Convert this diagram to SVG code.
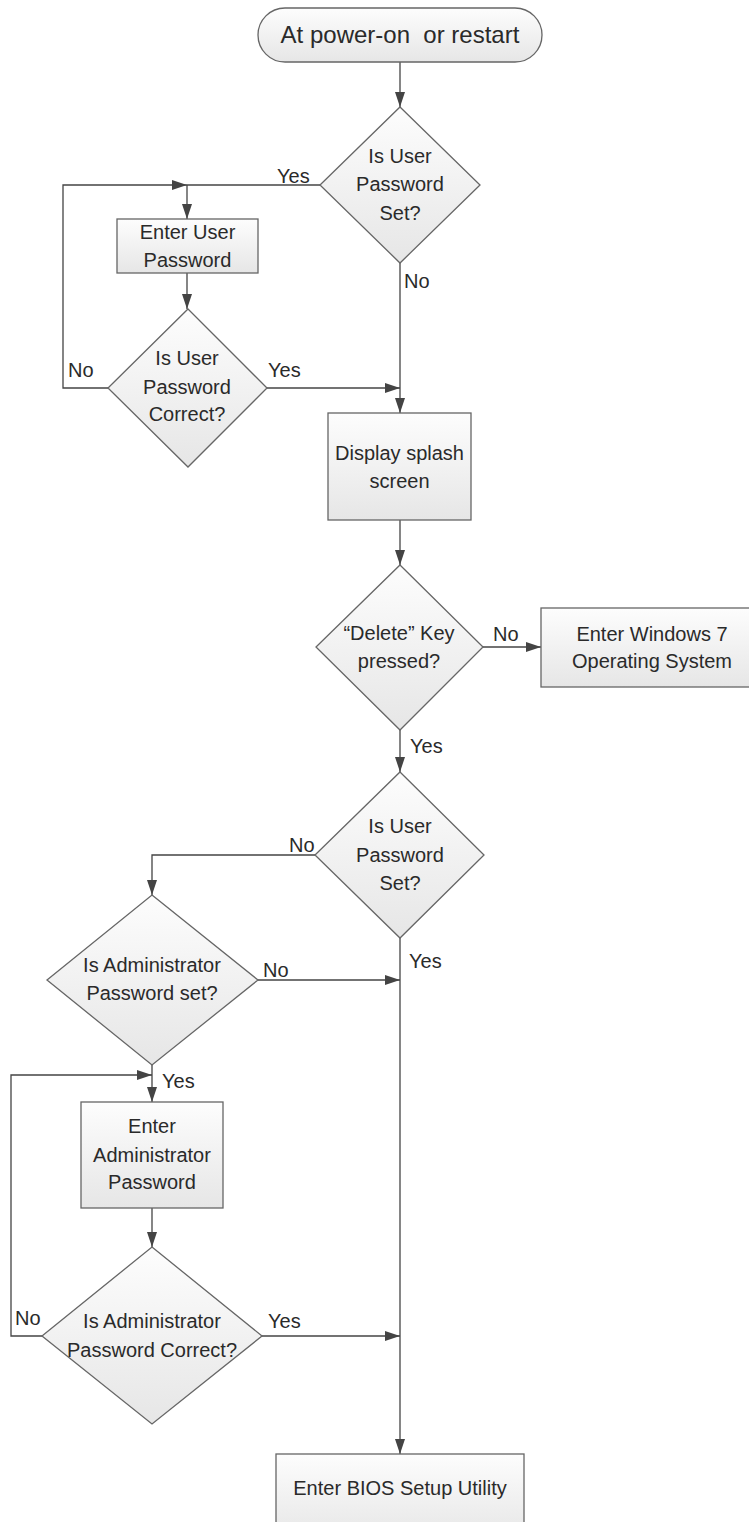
<svg xmlns="http://www.w3.org/2000/svg" width="749" height="1522" viewBox="0 0 749 1522">
<defs>
<linearGradient id="g" x1="0" y1="0" x2="0" y2="1">
<stop offset="0" stop-color="#fdfdfd"/>
<stop offset="1" stop-color="#e6e6e6"/>
</linearGradient>
<marker id="ah" markerUnits="userSpaceOnUse" markerWidth="15" markerHeight="10" refX="15" refY="5" orient="auto">
<path d="M0,0 L15,5 L0,10 z" fill="#444"/>
</marker>
<style>
.n{fill:url(#g);stroke:#666;stroke-width:1.3}
.t{font-family:"Liberation Sans",Arial,sans-serif;font-size:20px;fill:#2a2a2a;text-anchor:middle}
.l{font-family:"Liberation Sans",Arial,sans-serif;font-size:20px;fill:#2a2a2a}
.c{fill:none;stroke:#444;stroke-width:1.3}
.a{marker-end:url(#ah)}
</style>
</defs>
<rect width="749" height="1522" fill="#fff"/>
<g id="connectors">
<path class="c a" d="M400,62 L400,107"/>
<path class="c" d="M320,185 L187,185"/>
<path class="c a" d="M187,185 L187,219"/>
<path class="c a" d="M108,388 L63,388 L63,185 L187,185"/>
<path class="c a" d="M187,273 L187,309"/>
<path class="c a" d="M267,388 L400,388"/>
<path class="c a" d="M400,263 L400,413"/>
<path class="c a" d="M400,520 L400,565"/>
<path class="c a" d="M483,647 L541,647"/>
<path class="c a" d="M400,730 L400,772"/>
<path class="c a" d="M315,855 L152,855 L152,895"/>
<path class="c a" d="M258,980 L400,980"/>
<path class="c a" d="M152,1065 L152,1102"/>
<path class="c a" d="M42,1336 L11,1336 L11,1075 L152,1075"/>
<path class="c a" d="M152,1208 L152,1247"/>
<path class="c a" d="M262,1336 L400,1336"/>
<path class="c a" d="M400,938 L400,1454"/>
<text class="l" x="277" y="183">Yes</text>
<text class="l" x="404" y="288">No</text>
<text class="l" x="68" y="377">No</text>
<text class="l" x="268" y="377">Yes</text>
<text class="l" x="493" y="641">No</text>
<text class="l" x="410" y="753">Yes</text>
<text class="l" x="289" y="852">No</text>
<text class="l" x="409" y="968">Yes</text>
<text class="l" x="263" y="977">No</text>
<text class="l" x="162" y="1088">Yes</text>
<text class="l" x="15" y="1325">No</text>
<text class="l" x="268" y="1328">Yes</text>
</g>
<g id="start">
<rect class="n" x="258" y="8" width="284" height="54" rx="27"/>
<text class="t" x="400" y="43" style="font-size:24px" xml:space="preserve">At power-on  or restart</text>
</g>
<g id="d1">
<polygon class="n" points="400,107 480,185 400,263 320,185"/>
<text class="t" x="400" y="163">Is User</text>
<text class="t" x="400" y="191">Password</text>
<text class="t" x="400" y="220">Set?</text>
</g>
<g id="enterUser">
<rect class="n" x="117" y="219" width="141" height="54"/>
<text class="t" x="187.5" y="239">Enter User</text>
<text class="t" x="187.5" y="267">Password</text>
</g>
<g id="d2">
<polygon class="n" points="188,309 267,388 188,467 108,388"/>
<text class="t" x="187" y="365">Is User</text>
<text class="t" x="187" y="394">Password</text>
<text class="t" x="187" y="421">Correct?</text>
</g>
<g id="splash">
<rect class="n" x="328" y="413" width="143" height="107"/>
<text class="t" x="399.5" y="460">Display splash</text>
<text class="t" x="399.5" y="488">screen</text>
</g>
<g id="d3">
<polygon class="n" points="400,565 483,647 400,730 316,647"/>
<text class="t" x="399" y="640">“Delete” Key</text>
<text class="t" x="399" y="668">pressed?</text>
</g>
<g id="windows">
<rect class="n" x="541" y="608" width="222" height="79"/>
<text class="t" x="652" y="641">Enter Windows 7</text>
<text class="t" x="652" y="668">Operating System</text>
</g>
<g id="d4">
<polygon class="n" points="400,772 484,855 400,938 315,855"/>
<text class="t" x="400" y="833">Is User</text>
<text class="t" x="400" y="862">Password</text>
<text class="t" x="400" y="890">Set?</text>
</g>
<g id="d5">
<polygon class="n" points="152,895 258,980 152,1065 47,980"/>
<text class="t" x="152" y="972">Is Administrator</text>
<text class="t" x="152" y="1000">Password set?</text>
</g>
<g id="enterAdmin">
<rect class="n" x="81" y="1102" width="142" height="106"/>
<text class="t" x="152" y="1133">Enter</text>
<text class="t" x="152" y="1162">Administrator</text>
<text class="t" x="152" y="1189">Password</text>
</g>
<g id="d6">
<polygon class="n" points="152,1247 262,1336 152,1424 42,1336"/>
<text class="t" x="152" y="1328">Is Administrator</text>
<text class="t" x="152" y="1357">Password Correct?</text>
</g>
<g id="bios">
<rect class="n" x="276" y="1454" width="248" height="86"/>
<text class="t" x="400" y="1495">Enter BIOS Setup Utility</text>
</g>
</svg>
